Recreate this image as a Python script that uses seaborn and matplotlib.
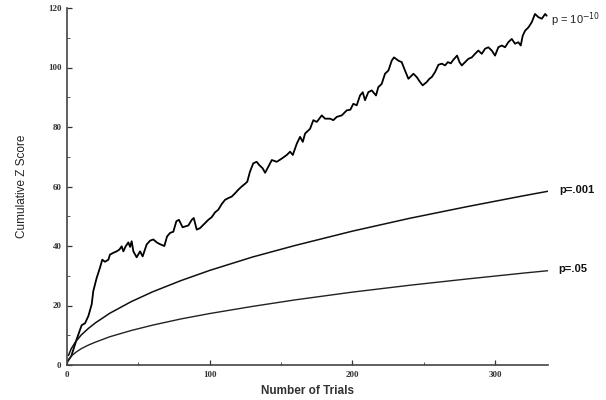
import matplotlib
matplotlib.use("Agg")
import matplotlib.pyplot as plt
from matplotlib.ticker import MultipleLocator
import seaborn as sns
import pandas as pd

trial_n = [0, 3, 6.8, 10.3, 12.6, 15, 17.3, 18.4, 20.8, 23.1, 24.7, 26.6, 29, 30.1,
           32.4, 34.8, 36.7, 38.3, 39.5, 41.1, 43, 44.2, 45.3, 46.5, 48.8, 51.2,
           53, 55.8, 58.2, 60.5, 62.9, 65.2, 68.2, 70.1, 72.2, 74.5, 76.6, 78.4,
           81, 83, 85, 87.4, 88.8, 90.9, 93.2, 96.7, 99, 101.4, 103.7, 106, 108.4,
           110.7, 113, 115.4, 117.7, 120, 122.4, 124.7, 126.3, 128.2, 130.5, 132.9,
           134.7, 137.1, 138.8, 141.1, 143.5, 147, 150.5, 154, 156.3, 158.2, 161,
           163.3, 165.2, 166.8, 170.3, 172.6, 175, 178.5, 180.8, 184.3, 186.6, 189,
           192.5, 196, 198.5, 200.6, 203, 205.3, 207.2, 208.8, 211.1, 213.5, 216.5,
           218.1, 220.5, 222.8, 225.2, 227.5, 229.1, 232.2, 234.5, 236.8, 239.2,
           242.7, 245, 247.4, 249.2, 252, 253.9, 255.6, 257.9, 260.2, 262.6, 264.9,
           266.8, 268.9, 270.7, 273.3, 275, 276.6, 278.9, 281.2, 283.6, 285.9,
           288.2, 290.6, 292.9, 295.2, 297.6, 299.9, 302.2, 304.6, 306.9, 309.2,
           311.6, 313.9, 316.2, 317.9, 319.3, 321, 323.3, 325.6, 327.9, 330.3,
           332.7, 335, 336.1]
z_obs = [0.9, 3.0, 8.7, 13.4, 14.0, 16.5, 20.4, 24.8, 29.3, 32.7, 35.4, 34.7, 35.4, 37.1,
         37.7, 38.2, 38.8, 39.9, 38.2, 39.9, 41.2, 39.7, 41.6, 38.2, 36.2, 38.2,
         36.5, 40.5, 41.8, 42.2, 41.2, 40.6, 40.0, 43.2, 44.4, 44.8, 48.3, 48.8,
         46.3, 46.6, 46.9, 48.8, 49.4, 45.5, 46.0, 47.7, 48.8, 49.7, 51.3, 52.2, 54.1,
         55.5, 56.1, 56.6, 57.7, 58.9, 60.0, 60.9, 61.6, 65.0, 67.8, 68.3,
         67.2, 66.1, 64.6, 66.7, 68.9, 68.3, 69.4, 70.6, 71.7, 70.6, 74.4,
         76.7, 75.0, 77.8, 79.4, 82.3, 81.7, 83.9, 82.8, 82.8, 82.3, 83.4,
         83.9, 85.6, 85.8, 87.8, 87.3, 90.6, 91.7, 89.0, 91.7, 92.3, 90.6,
         93.4, 94.5, 97.9, 99.0, 102.3, 103.4, 102.3, 101.8, 99.0, 96.2,
         97.9, 96.8, 95.1, 94.0, 95.1, 96.2, 96.8, 98.5, 100.9, 101.3, 100.7,
         101.8, 101.4, 102.6, 104.0, 101.8, 100.7, 101.8, 102.9, 103.4, 104.6,
         105.7, 104.6, 106.3, 106.8, 105.7, 104.0, 106.8, 107.4, 106.8, 108.5,
         109.6, 108.0, 108.5, 107.4, 110.7, 112.4, 113.5, 115.2, 118.0, 116.9,
         116.4, 118.0, 117.4]

# significance threshold curves
thr_n = [1, 3, 6, 10, 15, 20, 30, 45, 60, 80, 100, 130, 160, 200, 240, 280, 320, 337]
z_p001 = [3.2, 5.5, 7.8, 10.1, 12.3, 14.2, 17.4, 21.3, 24.6, 28.4, 31.8, 36.3,
          40.2, 45.0, 49.3, 53.2, 56.9, 58.4]
z_p05 = [1.7, 3.0, 4.2, 5.5, 6.7, 7.7, 9.5, 11.6, 13.4, 15.5, 17.3, 19.7,
         21.9, 24.5, 26.8, 28.9, 30.9, 31.7]

labels = ["p = 10$^{-10}$", "p=.001", "p=.05"]

sns.set_style("ticks")
plt.rcParams['font.family'] = ['Liberation Sans', 'DejaVu Sans']

df_obs = pd.DataFrame({'Trials': trial_n, 'Z': z_obs})
df_thr = pd.DataFrame({'Trials': thr_n, 'p001': z_p001, 'p05': z_p05})

fig = plt.figure(figsize=(6.06, 4.0), dpi=100)
ax = fig.add_axes([67 / 606, 35 / 400, 481 / 606, 357 / 400])

sns.lineplot(df_obs, x='Trials', y='Z', ax=ax, color='black', lw=1.3,
             estimator=None, sort=False)
sns.lineplot(df_thr, x='Trials', y='p001', ax=ax, color='#111111', lw=1.1,
             estimator=None)
sns.lineplot(df_thr, x='Trials', y='p05', ax=ax, color='#222222', lw=1.0,
             estimator=None)

ax.set_xlim(0, 337)
ax.set_ylim(0, 120)
ax.xaxis.set_major_locator(MultipleLocator(100))
ax.xaxis.set_minor_locator(MultipleLocator(50))
ax.yaxis.set_major_locator(MultipleLocator(20))
ax.yaxis.set_minor_locator(MultipleLocator(10))
ax.tick_params(which='major', direction='in', length=3.5, width=0.9,
               color='#333333', labelsize=6.5, pad=4)
ax.tick_params(which='minor', direction='in', length=2, width=0.7,
               color='#555555')
for t in ax.get_xticklabels() + ax.get_yticklabels():
    t.set_fontfamily('Liberation Serif')
    t.set_fontweight('bold')
    t.set_color('#333333')

sns.despine(ax=ax)
for side in ['left', 'bottom']:
    ax.spines[side].set_color('#444444')
    ax.spines[side].set_linewidth(1.2)

ax.set_xlabel('Number of Trials', fontsize=8.5, fontweight='bold',
              color='#333333', labelpad=5)
ax.set_ylabel('Cumulative Z Score', fontsize=8.5, color='#222222', labelpad=14)

# curve labels at the right end
ax.text(339, z_obs[-1] - 1.5, labels[0], fontsize=8, color='#222222',
        va='center', clip_on=False)
ax.text(345, z_p001[-1] + 0.5, labels[1], fontsize=8, fontweight='bold',
        color='#111111', va='center', clip_on=False)
ax.text(344, z_p05[-1] + 0.5, labels[2], fontsize=8, fontweight='bold',
        color='#111111', va='center', clip_on=False)

fig.savefig('out.png', dpi=100)
